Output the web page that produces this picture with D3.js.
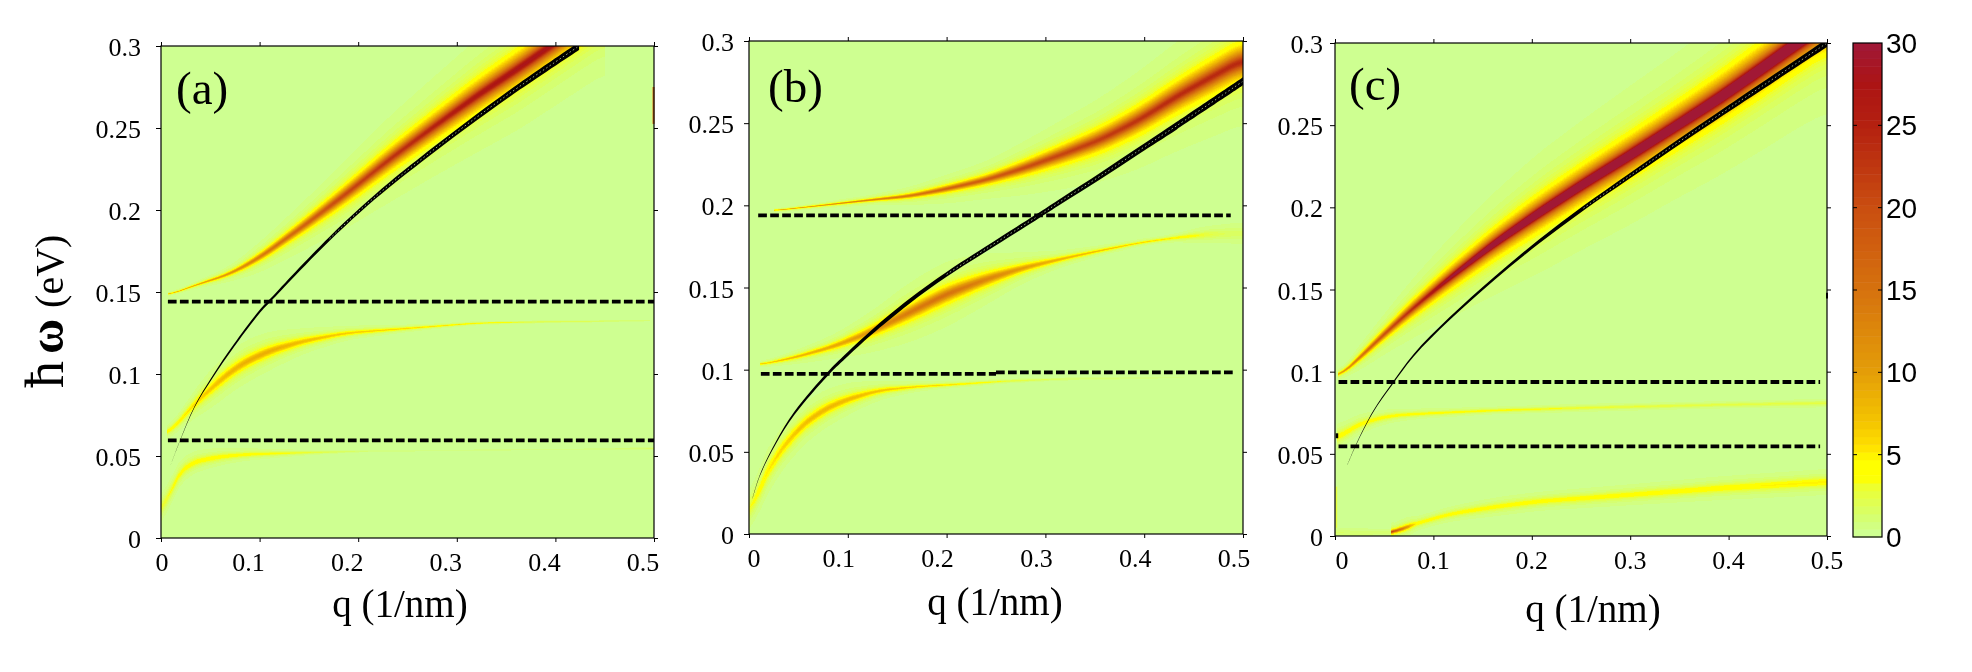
<!DOCTYPE html>
<html><head><meta charset="utf-8">
<script src="https://cdnjs.cloudflare.com/ajax/libs/d3/7.8.5/d3.min.js"></script>
<style>
html,body{margin:0;padding:0;background:#fff;width:1972px;height:672px;overflow:hidden}
#stage{position:relative;width:1972px;height:672px}
canvas,svg{position:absolute;left:0;top:0}
text{font-family:"Liberation Serif",serif;fill:#000}
</style></head><body><div id="stage"></div>
<script>
// Spectral ridges per panel: photon energy, Lorentzian half width and peak height along q.
const aUpperQ=[.007,.034,.07,.1,.144,.188,.232,.276,.32,.364,.395,.45];
const aUpperW=[.148,.154,.161,.171,.19,.21,.231,.2505,.2695,.287,.3,.323];
const aUpperG=[.0003,.0005,.001,.0017,.0025,.0032,.0038,.0042,.0046,.0049,.005,.0052];
const aUpperP=[7,9,11,14,17,21,23,25,27,28,28,28];
const aMidQ=[.006,.025,.048,.078,.109,.144,.188,.232,.276,.32,.364,.496];
const aMidW=[.062,.076,.09,.105,.114,.12,.125,.127,.129,.131,.1316,.1326];
const aMidG=[.0012,.002,.0032,.0032,.0028,.002,.0012,.0008,.0005,.0004,.0004,.0004];
const aMidP=[4.5,5,7,8.5,9,7.5,6.5,6,5.5,5,3,1.2];
const aLowQ=[0,.006,.012,.025,.048,.078,.122,.16,.21,.41,.5];
const aLowW=[.01,.025,.0355,.0446,.0486,.0507,.0517,.0522,.053,.054,.0546];
const aLowG=[.004,.0035,.003,.0025,.002,.0014,.0009,.0006,.0005,.0005,.0006];
const aLowP=[2.5,3.2,3.8,4.2,4.4,4.4,4,2.5,1,.6,1.5];

const bUpperQ=[.025,.065,.1236,.162,.2,.24,.278,.317,.356,.395,.433,.472,.5];
const bUpperW=[.1968,.1994,.2033,.2056,.21,.2155,.2226,.231,.24,.252,.2663,.2794,.2885];
const bUpperG=[.0003,.0004,.0006,.001,.0014,.0018,.0025,.0032,.0038,.0043,.0047,.0052,.0055];
const bUpperP=[8,10,13,14,17,18,20,21,22,23,24,24,24];
const bMidQ=[.011,.046,.085,.1236,.162,.2,.24,.278,.317,.356,.395,.433,.47,.5];
const bMidW=[.103,.1074,.114,.123,.1347,.146,.155,.162,.1675,.1725,.1772,.1804,.1825,.183];
const bMidG=[.0005,.001,.0016,.0026,.0034,.0036,.003,.002,.0012,.0008,.0006,.0007,.0025,.004];
const bMidP=[6,8,9,11,14,15,13,10,8,7,6,5,2,1.5];
const bLowQ=[0,.007,.023,.046,.069,.096,.131,.17,.209,.259,.317,.395,.45];
const bLowW=[.007,.025,.0435,.0618,.0735,.0813,.0873,.0897,.091,.093,.0943,.095,.0955];
const bLowG=[.005,.005,.0042,.0035,.003,.0025,.0015,.0008,.0006,.0006,.0006,.0008,.0008];
const bLowP=[2.5,4,5.5,7,8,8,7,6,5.5,3,1.5,.8,.4];

const cUpperQ=[.0027,.025,.053,.08,.116,.162,.207,.2525,.298,.343,.389,.434,.47,.5];
const cUpperW=[.0963,.1085,.1245,.139,.1568,.178,.1965,.2142,.231,.2481,.2658,.2846,.3,.3125];
const cUpperG=[.0006,.0014,.002,.0026,.0031,.0036,.004,.0043,.0046,.0048,.005,.0053,.0055,.0058];
const cUpperP=[8,15,20,24,30,36,40,40,40,40,42,42,42,42];
const cMidQ=[.002,.012,.03,.057,.0935,.162,.2525,.389,.5];
const cMidW=[.0582,.0642,.0694,.0733,.0746,.0764,.078,.0798,.0809];
const cMidG=[.003,.0025,.002,.0014,.001,.0008,.001,.001,.0012];
const cMidP=[4.2,4.2,4.2,4.2,4.2,4,3,2.5,2.5];
const cLowQ=[.057,.063,.071,.0935,.116,.162,.207,.298,.389,.5];
const cLowW=[.0016,.0025,.0055,.0094,.0133,.0177,.0211,.025,.029,.0329];
const cLowG=[.0004,.0008,.0015,.0015,.0016,.002,.002,.0022,.0024,.0025];
const cLowP=[25,25,5,4.2,4.2,4.2,4.2,4.2,4.5,5];
const cEdgeQ=[0,.03,.06];
const cEdgeW=[.002,.002,.002];
const cEdgeG=[.002,.002,.002];
const cEdgeP=[1.5,1.2,1.2];

// Bare dispersion curves, drawn black with a half thickness that grows with q.
const aBareQ=[.01,.019,.034,.052,.074,.1,.111,.136,.171,.202,.232,.276,.32,.364,.424];
const aBareW=[.0447,.059,.08,.098,.1174,.138,.145,.161,.1825,.2,.2155,.2365,.2565,.2755,.3];
const aBareH=[.0001,.0002,.0004,.0007,.0009,.001,.001,.0011,.0012,.0013,.0015,.0017,.0019,.0021,.0024];
const bBareQ=[.0035,.011,.027,.046,.081,.1,.1236,.162,.2,.24,.29,.317,.356,.395,.433,.5];
const bBareW=[.0214,.0357,.0553,.0735,.0983,.1095,.1225,.1415,.158,.1735,.1925,.203,.218,.2335,.2485,.2755];
const bBareH=[.0002,.0004,.0007,.001,.0012,.0013,.0014,.0015,.0015,.0016,.0017,.0018,.002,.0021,.0023,.0025];
const cBareQ=[.0127,.021,.039,.057,.08,.116,.162,.207,.2525,.298,.343,.389,.434,.5];
const cBareW=[.0433,.055,.0759,.0916,.11,.132,.1568,.179,.1995,.2185,.2372,.2557,.2737,.3];
const cBareH=[.0001,.0002,.0004,.0006,.0008,.0009,.001,.0012,.0014,.0016,.0018,.002,.0022,.0025];

// Dashed level lines: [energy, q start, q end].
const aLevels=[[.1441,.007,.5],[.0595,.007,.5]];
const bLevels=[[.1939,.0093,.4876],[.0975,.012,.25],[.0983,.25,.49]];
const cLevels=[[.0937,.0036,.493],[.0545,.0036,.493]];

// Short slivers along the frame: [q, energy start, energy end, colour, width].
const aSlivers=[[.4995,.2525,.275,"#d8701a",2]];
const bSlivers=[];
const cSlivers=[[.002,.0595,.0625,"#000",2.5],[.5,.1445,.148,"#000",2],[.0015,.005,.03,"#e8ff40",1.5]];

const qTicks=[0,.1,.2,.3,.4,.5];
const wTicks=[0,.05,.1,.15,.2,.25,.3];
const barTicks=[0,5,10,15,20,25,30];
const barStops=[0,1.5,3,3.6,4.6,5.5,7,10,15,20,25,27.5,30];
const barColors=["#ccff99","#d8ff66","#ecff33","#ffff00","#ffff00","#ffe000","#f4c400","#e49e08","#d6720e","#ca4e10","#b42010","#ac1414","#a01838"];

const panels=[
 {tag:"(a)",left:161,right:654,top:46,bottom:538,tagX:176,tagY:104,titleX:400,titleY:617,
  wGap:20,qShift:-11,zeroShift:1,slivers:aSlivers,
  ridges:[[aUpperQ,aUpperW,aUpperG,aUpperP],[aMidQ,aMidW,aMidG,aMidP],[aLowQ,aLowW,aLowG,aLowP]],
  bare:[aBareQ,aBareW,aBareH],levels:aLevels},
 {tag:"(b)",left:749,right:1243,top:41,bottom:534,tagX:768,tagY:102,titleX:995,titleY:615,
  wGap:15,qShift:-9,zeroShift:5,slivers:bSlivers,
  ridges:[[bUpperQ,bUpperW,bUpperG,bUpperP],[bMidQ,bMidW,bMidG,bMidP],[bLowQ,bLowW,bLowG,bLowP]],
  bare:[bBareQ,bBareW,bBareH],levels:bLevels},
 {tag:"(c)",left:1335,right:1827,top:43,bottom:536,tagX:1349,tagY:100,titleX:1593,titleY:622,
  wGap:12,qShift:0,zeroShift:7,slivers:cSlivers,
  ridges:[[cUpperQ,cUpperW,cUpperG,cUpperP],[cMidQ,cMidW,cMidG,cMidP],[cLowQ,cLowW,cLowG,cLowP],[cEdgeQ,cEdgeW,cEdgeG,cEdgeP]],
  bare:[cBareQ,cBareW,cBareH],levels:cLevels}
];

const stage=d3.select("#stage");
const colorOf=d3.scaleLinear().domain(barStops).range(barColors).clamp(true);
const levelCount=64;
const palette=d3.range(levelCount).map(i=>d3.rgb(colorOf((i+.5)*30/levelCount)));
const levelOf=d3.scaleQuantize().domain([0,30]).range(d3.range(levelCount));

// Knot tables are eased by a short running mean so the ridges have no corners.
const eased=(q,v)=>{
  const s=d3.scaleLinear().domain(q).range(v).clamp(true);
  const offs=[-.012,-.006,0,.006,.012];
  return t=>d3.mean(offs,o=>s(t+o));
};

function drawField(p,x,y){
  const w=p.right-p.left,h=p.bottom-p.top;
  const cv=stage.append("canvas").attr("width",w).attr("height",h)
    .style("left",p.left+"px").style("top",p.top+"px").node();
  const ctx=cv.getContext("2d"),img=ctx.createImageData(w,h);
  const tracks=p.ridges.map(([q,om,g,pk])=>({
    lo:q[0],hi:q[q.length-1],om:eased(q,om),g:eased(q,g),pk:eased(q,pk)}));
  for(let i=0;i<w;i++){
    const qv=x.invert(p.left+i+.5);
    const at=tracks.filter(t=>qv>=t.lo&&qv<=t.hi)
      .map(t=>({c:t.om(qv),g:t.g(qv),pk:t.pk(qv)}));
    for(let j=0;j<h;j++){
      const ev=y.invert(p.top+j+.5);
      let v=0;
      for(const t of at){const d=(ev-t.c)/t.g;v+=t.pk/(1+d*d);}
      const c=palette[levelOf(Math.min(v,29.99))],k=(j*w+i)*4;
      img.data[k]=c.r;img.data[k+1]=c.g;img.data[k+2]=c.b;img.data[k+3]=255;
    }
  }
  ctx.putImageData(img,0,0);
}

panels.forEach(p=>{
  p.x=d3.scaleLinear().domain([0,.5]).range([p.left,p.right]);
  p.y=d3.scaleLinear().domain([0,.3]).range([p.bottom,p.top]);
  drawField(p,p.x,p.y);
});
const root=stage.append("svg").attr("width",1972).attr("height",672);

panels.forEach((p,idx)=>{
  const g=root.append("g");
  const clipId="plot"+idx;
  root.append("clipPath").attr("id",clipId).append("rect")
    .attr("x",p.left).attr("y",p.top).attr("width",p.right-p.left).attr("height",p.bottom-p.top);
  const [bq,bw,bh]=p.bare;
  const pts=bq.map((q,i)=>({q,w:bw[i],h:bh[i]}));
  g.append("path").datum(pts).attr("clip-path",`url(#${clipId})`).attr("fill","#000")
    .attr("d",d3.area().curve(d3.curveCatmullRom).x(d=>p.x(d.q)).y0(d=>p.y(d.w-d.h)).y1(d=>p.y(d.w+d.h)));
  g.append("path").datum(pts.slice(8)).attr("clip-path",`url(#${clipId})`).attr("fill","none")
    .attr("stroke","#dff5c8").attr("stroke-width",.7).attr("stroke-dasharray","1.5 2.5")
    .attr("d",d3.line().curve(d3.curveCatmullRom).x(d=>p.x(d.q)).y(d=>p.y(d.w)));
  g.selectAll("line.sliver").data(p.slivers).join("line").attr("class","sliver")
    .attr("x1",d=>p.x(d[0])).attr("x2",d=>p.x(d[0])).attr("y1",d=>p.y(d[1])).attr("y2",d=>p.y(d[2]))
    .attr("stroke",d=>d[3]).attr("stroke-width",d=>d[4]);
  g.selectAll("line.level").data(p.levels).join("line").attr("class","level")
    .attr("x1",d=>p.x(d[1])).attr("x2",d=>p.x(d[2])).attr("y1",d=>p.y(d[0])).attr("y2",d=>p.y(d[0]))
    .attr("stroke","#000").attr("stroke-width",3.8).attr("stroke-dasharray","8.7 3.3");
  const styleAxis=a=>{a.select(".domain").remove();a.selectAll("line").attr("stroke","#000");a.selectAll("text").remove();};
  g.append("g").attr("transform",`translate(0,${p.bottom})`).call(d3.axisBottom(p.x).tickValues(qTicks).tickSize(4)).call(styleAxis);
  g.append("g").attr("transform",`translate(0,${p.top})`).call(d3.axisTop(p.x).tickValues(qTicks).tickSize(4)).call(styleAxis);
  g.append("g").attr("transform",`translate(${p.left},0)`).call(d3.axisLeft(p.y).tickValues(wTicks).tickSize(5)).call(styleAxis);
  g.append("g").attr("transform",`translate(${p.right},0)`).call(d3.axisRight(p.y).tickValues(wTicks).tickSize(4)).call(styleAxis);
  g.append("rect").attr("x",p.left).attr("y",p.top).attr("width",p.right-p.left).attr("height",p.bottom-p.top)
    .attr("fill","none").attr("stroke","#000").attr("stroke-width",1.2);
  g.selectAll("text.qt").data(qTicks).join("text").attr("class","qt")
    .attr("x",d=>p.x(d)+(d===0?p.zeroShift:p.qShift)).attr("y",p.bottom+33).attr("text-anchor","middle").attr("font-size",26)
    .text(d=>d===0?"0":d3.format(".1f")(d));
  g.selectAll("text.wt").data(wTicks).join("text").attr("class","wt")
    .attr("x",p.left-p.wGap).attr("y",d=>p.y(d)+10).attr("text-anchor","end").attr("font-size",26)
    .text(d=>d===0?"0":String(d));
  g.append("text").attr("x",p.tagX).attr("y",p.tagY).attr("font-size",47).text(p.tag);
  g.append("text").attr("x",p.titleX).attr("y",p.titleY).attr("text-anchor","middle").attr("font-size",39).text("q (1/nm)");
});

// Axis title built from differently sized runs: the large h-bar and bold omega, then the unit.
const yTitle=root.append("text").attr("transform","translate(63,388) rotate(-90)");
yTitle.append("tspan").attr("font-size",54).text("ħ");
yTitle.append("tspan").attr("font-size",48).attr("font-weight","bold").attr("dx",7).text("ω");
yTitle.append("tspan").attr("font-size",40).attr("dx",11).text("(eV)");

// Colour bar with one band per palette level.
const barLeft=1853,barRight=1882,barTop=43,barBottom=537;
const barY=d3.scaleLinear().domain([0,30]).range([barBottom,barTop]);
const bar=root.append("g");
bar.selectAll("rect.band").data(d3.range(levelCount)).join("rect").attr("class","band")
  .attr("x",barLeft).attr("width",barRight-barLeft)
  .attr("y",i=>barY((i+1)*30/levelCount)).attr("height",i=>barY(i*30/levelCount)-barY((i+1)*30/levelCount)+.5)
  .attr("fill",i=>palette[i]);
bar.append("rect").attr("x",barLeft).attr("y",barTop).attr("width",barRight-barLeft).attr("height",barBottom-barTop)
  .attr("fill","none").attr("stroke","#000").attr("stroke-width",1.2);
bar.selectAll("line.l").data(barTicks.slice(1,-1)).join("line").attr("class","l")
  .attr("x1",barLeft).attr("x2",barLeft+4).attr("y1",barY).attr("y2",barY).attr("stroke","#000");
bar.selectAll("line.r").data(barTicks.slice(1,-1)).join("line").attr("class","r")
  .attr("x1",barRight-4).attr("x2",barRight).attr("y1",barY).attr("y2",barY).attr("stroke","#000");
bar.selectAll("text").data(barTicks).join("text")
  .attr("x",barRight+4).attr("y",d=>barY(d)+10).attr("font-size",28)
  .style("font-family","'Liberation Sans',sans-serif").text(d=>d);
</script></body></html>
